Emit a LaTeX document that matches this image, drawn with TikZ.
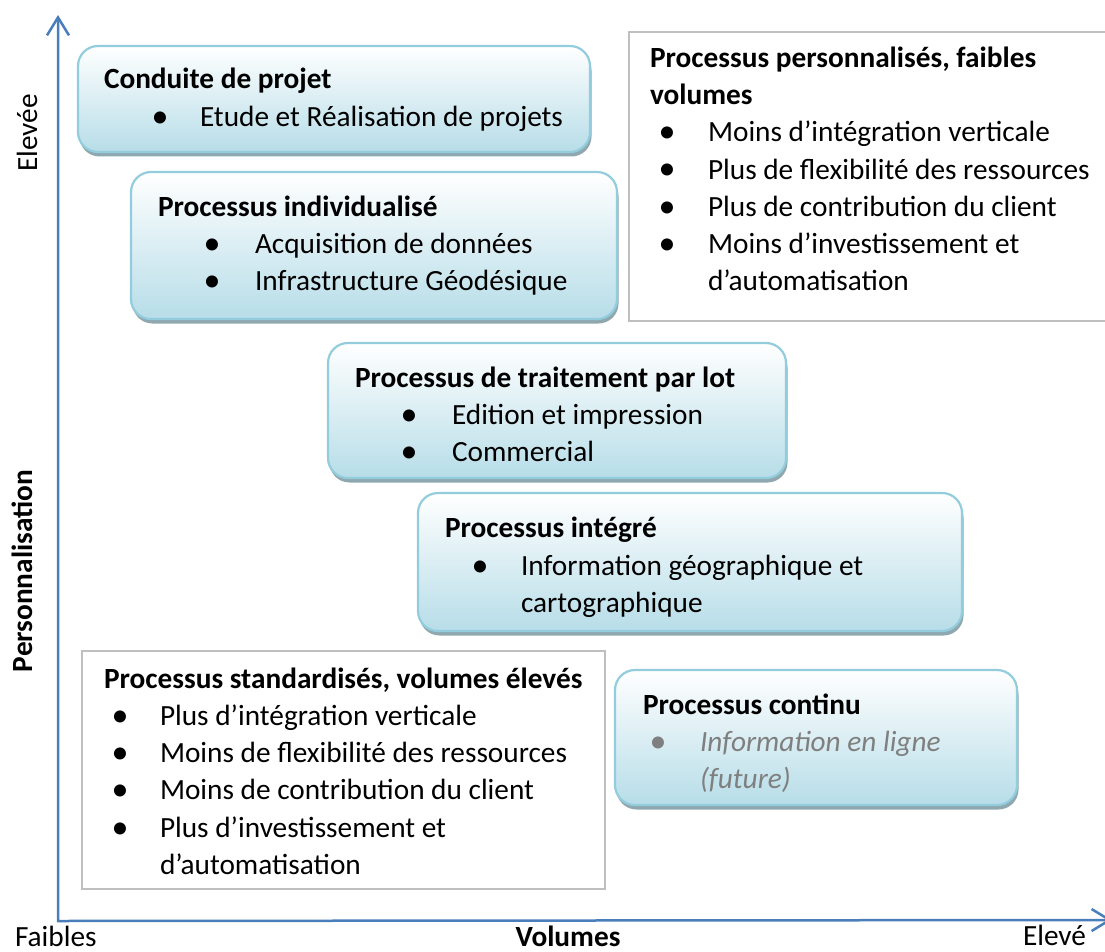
\documentclass[tikz,border=0pt]{standalone}
\usepackage{fontspec}
\setmainfont{Carlito}
\usetikzlibrary{arrows.meta,shadows}

\definecolor{axisblue}{HTML}{4A7EBB}
\definecolor{boxedge}{HTML}{93CDDD}
\definecolor{boxbottom}{HTML}{B7DDE8}
\definecolor{boxshadow}{HTML}{8FA7AE}
\definecolor{greyedge}{HTML}{BFBFBF}
\definecolor{futuregrey}{HTML}{7F7F7F}

\newcommand{\txtsize}{\fontsize{29.3}{37}\selectfont}

\tikzset{
  every node/.style={inner sep=0pt, outer sep=0pt, font=\txtsize},
  procbox/.style={draw=boxedge, line width=2.2pt, rounded corners=20pt,
    top color=white, bottom color=boxbottom, anchor=north west,
    drop shadow={shadow xshift=1.5pt, shadow yshift=-4.5pt, fill=boxshadow, opacity=1}},
  notebox/.style={draw=greyedge, line width=2pt, fill=white, anchor=north west},
  axisline/.style={draw=axisblue, line width=2.5pt, line join=miter},
  head/.style={anchor=base west, font=\txtsize\bfseries},
  itemtext/.style={anchor=base west},
  bulletmark/.style={anchor=base, font=\fontsize{34}{37}\selectfont},
  axislabel/.style={anchor=base},
  futuretext/.style={anchor=base west, text=futuregrey, font=\txtsize\itshape},
}

\begin{document}
\begin{tikzpicture}[x=1pt, y=-1pt]
\useasboundingbox (0,0) rectangle (1105,952);

% axes
\coordinate (ytop) at (58,15);
\coordinate (origin) at (58,921);
\coordinate (xend) at (1112,920);
\draw[axisline, {Straight Barb[length=18pt,width=22pt]}-{Straight Barb[length=18pt,width=22pt]}]
  (ytop) -- (origin) -- (xend);

% axis labels
\node[axislabel, rotate=90] (hiP) at (37,133) {Elevée};
\node[axislabel, rotate=90, font=\txtsize\bfseries] (persLbl) at (32,571) {Personnalisation};
\node[anchor=base west] (loV) at (15,946) {Faibles};
\node[axislabel, font=\txtsize\bfseries] (volLbl) at (568,946) {Volumes};
\node[anchor=base west] (hiV) at (1023,945) {Elevé};

% grey note boxes
\node[notebox, minimum width=490pt, minimum height=289pt] (noteA) at (629,32) {};
\node[notebox, minimum width=523pt, minimum height=238pt] (noteB) at (82,651) {};

% process boxes
\node[procbox, minimum width=512pt, minimum height=106pt] (b1) at (78,46) {};
\node[procbox, minimum width=486pt, minimum height=147pt] (b2) at (131,172) {};
\node[procbox, minimum width=458pt, minimum height=135pt] (b3) at (328,343) {};
\node[procbox, minimum width=544pt, minimum height=138pt] (b4) at (418,493) {};
\node[procbox, minimum width=402pt, minimum height=135pt] (b5) at (615,670) {};

% Conduite de projet
\node[head] (t1) at (104,89) {Conduite de projet};
\node[bulletmark] (d11) at (160,128) {•};
\node[itemtext] (i11) at (200,127) {Etude et Réalisation de projets};

% Processus individualisé
\node[head] (t2) at (158,216) {Processus individualisé};
\node[bulletmark] (d21) at (212,254) {•};
\node[itemtext] (i21) at (255,253) {Acquisition de données};
\node[bulletmark] (d22) at (212,291) {•};
\node[itemtext] (i22) at (255,290) {Infrastructure Géodésique};

% Processus de traitement par lot
\node[head] (t3) at (355,387) {Processus de traitement par lot};
\node[bulletmark] (d31) at (409,425) {•};
\node[itemtext] (i31) at (452,424) {Edition et impression};
\node[bulletmark] (d32) at (409,462) {•};
\node[itemtext] (i32) at (452,461) {Commercial};

% Processus intégré
\node[head] (t4) at (445,537) {Processus intégré};
\node[bulletmark] (d41) at (480,576) {•};
\node[itemtext] (i41) at (521,575) {Information géographique et};
\node[itemtext] (i42) at (521,612) {cartographique};

% Processus continu
\node[head] (t5) at (643,714) {Processus continu};
\node[bulletmark, text=futuregrey] (d51) at (658,752) {•};
\node[futuretext] (i51) at (700,751) {Information en ligne};
\node[futuretext] (i52) at (700,788) {(future)};

% Processus personnalisés, faibles volumes
\node[head] (tA1) at (650,68) {Processus personnalisés, faibles};
\node[head] (tA2) at (650,105) {volumes};
\node[bulletmark] (dA1) at (667,143) {•};
\node[itemtext] (iA1) at (708,142) {Moins d’intégration verticale};
\node[bulletmark] (dA2) at (667,180) {•};
\node[itemtext] (iA2) at (708,179) {Plus de flexibilité des ressources};
\node[bulletmark] (dA3) at (667,217) {•};
\node[itemtext] (iA3) at (708,216) {Plus de contribution du client};
\node[bulletmark] (dA4) at (667,254) {•};
\node[itemtext] (iA4) at (708,253) {Moins d’investissement et};
\node[itemtext] (iA5) at (708,290) {d’automatisation};

% Processus standardisés, volumes élevés
\node[head] (tB) at (104,688) {Processus standardisés, volumes élevés};
\node[bulletmark] (dB1) at (120,726) {•};
\node[itemtext] (iB1) at (160,725) {Plus d’intégration verticale};
\node[bulletmark] (dB2) at (120,763) {•};
\node[itemtext] (iB2) at (160,762) {Moins de flexibilité des ressources};
\node[bulletmark] (dB3) at (120,800) {•};
\node[itemtext] (iB3) at (160,799) {Moins de contribution du client};
\node[bulletmark] (dB4) at (120,838) {•};
\node[itemtext] (iB4) at (160,837) {Plus d’investissement et};
\node[itemtext] (iB5) at (160,874) {d’automatisation};
\end{tikzpicture}
\end{document}
